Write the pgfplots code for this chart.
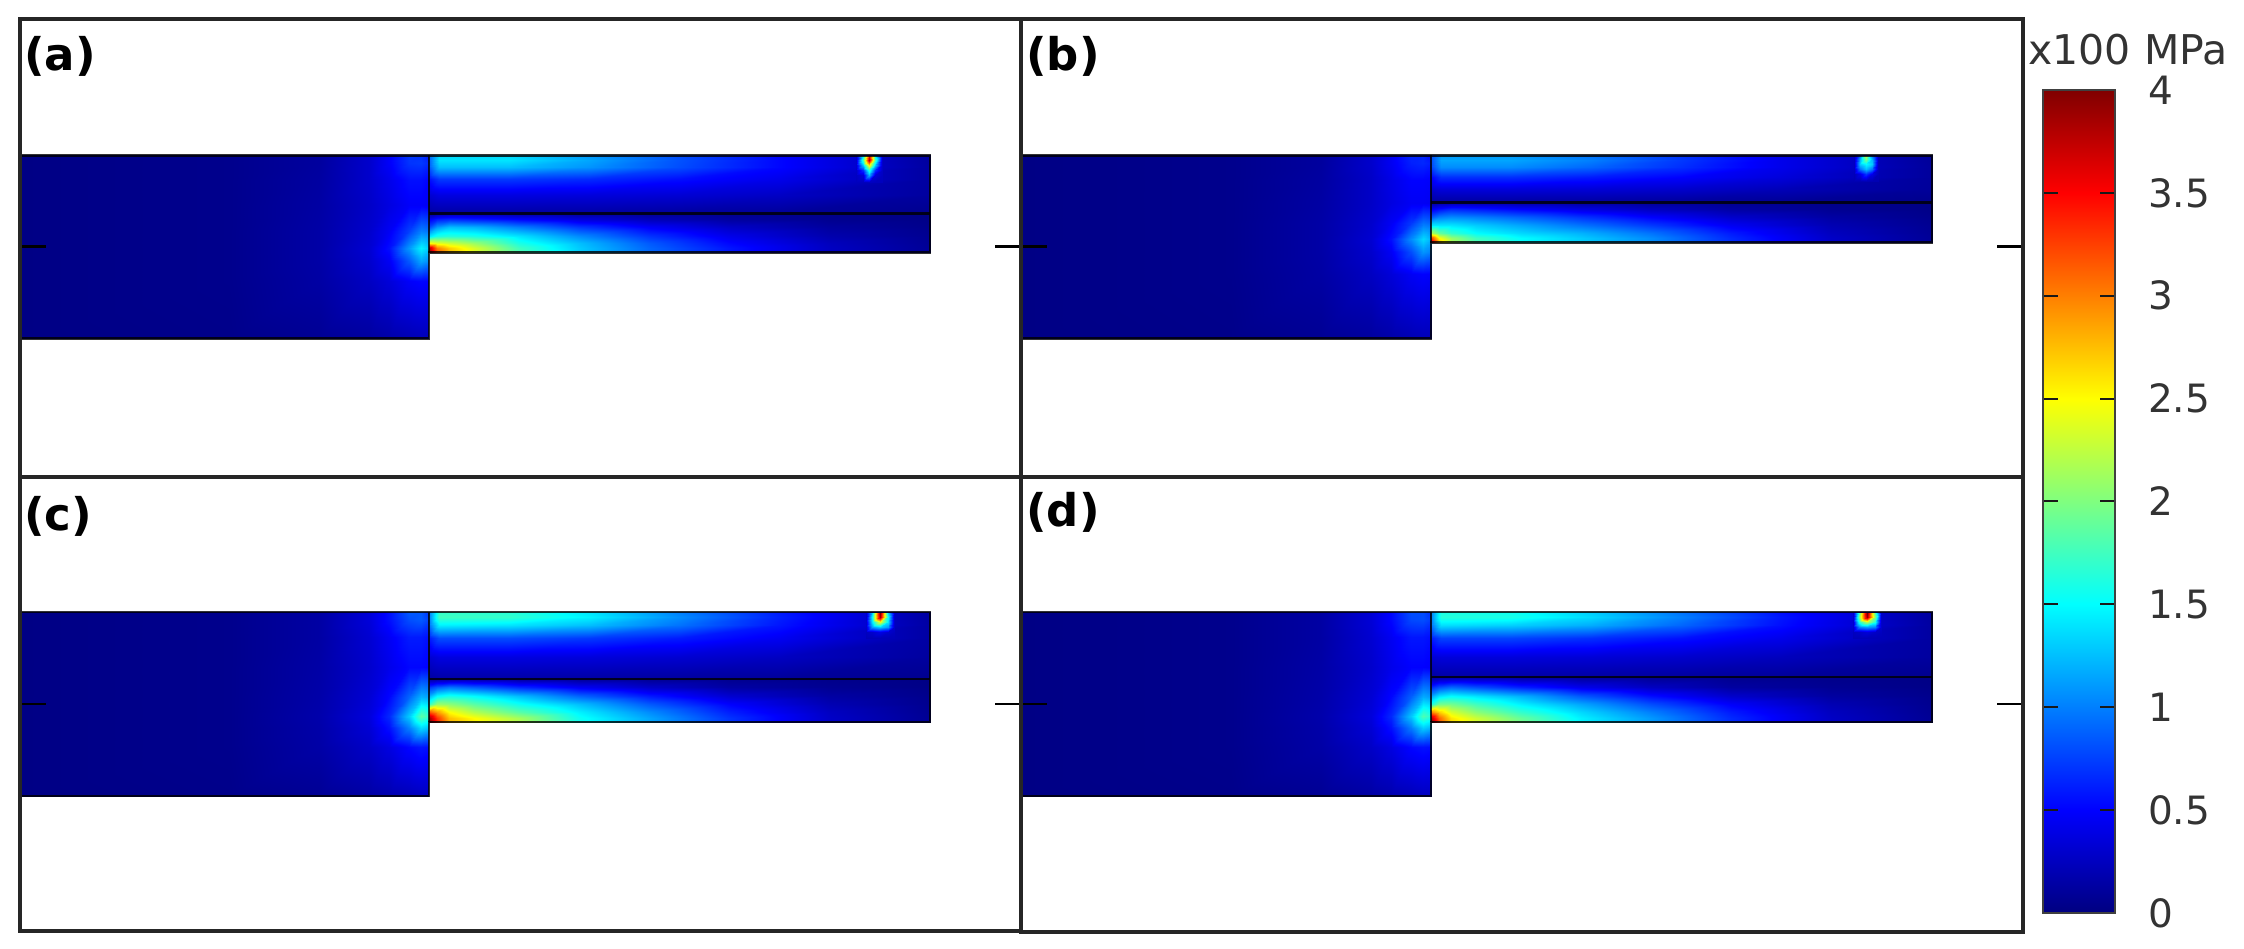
\documentclass[border=0pt]{standalone}
\usepackage{fontspec}
\setmainfont{DejaVu Sans}
\usepackage{pgfplots}
\pgfplotsset{compat=1.18}
\pgfplotsset{
  table/row sep=\\, table/x index=0, table/y index=1, table/meta index=2,
  panel/.style={scale only axis, anchor=south west, y dir=reverse, xtick=\empty,
    ytick pos=both, yticklabels={}, tick align=inside, major tick length=13pt,
    tick style={black,line width=1.3pt}, axis line style={black!85,line width=2pt},
    colormap/jet, point meta min=0, point meta max=4, axis on top},
  field/.style={surf, shader=interp, point meta=explicit},
  edge/.style={black, line width=1.3pt, opacity=0.8, no marks}
}
\begin{document}
\begin{tikzpicture}
\path[use as bounding box] (0,0) rectangle (1122pt,474pt);
% ------------------------------- (a)
\begin{axis}[panel, at={(10pt,235.5pt)}, width=500.5pt, height=228.5pt,
  xmin=-409, xmax=592, ymin=-136, ymax=321, ytick={91}]
\addplot[field, mesh/cols=8] table {
-408 0 .02\\-200 0 .05\\-110 0 .12\\-60 0 .3\\-40 0 .48\\-20 0 .72\\-8 0 .7\\0 0 .6\\
-408 8 .02\\-200 8 .05\\-110 8 .12\\-60 8 .3\\-40 8 .48\\-20 8 .7\\-8 8 .72\\0 8 .65\\
-408 25 .02\\-200 25 .05\\-110 25 .13\\-60 25 .3\\-40 25 .42\\-20 25 .55\\-8 25 .55\\0 25 .5\\
-408 50 .02\\-200 50 .05\\-110 50 .14\\-60 50 .28\\-40 50 .38\\-20 50 .48\\-8 50 .48\\0 50 .45\\
-408 75 .02\\-200 75 .05\\-110 75 .15\\-60 75 .3\\-40 75 .46\\-20 75 .75\\-8 75 1.0\\0 75 .95\\
-408 92 .02\\-200 92 .05\\-110 92 .15\\-60 92 .32\\-40 92 .55\\-20 92 1.1\\-8 92 1.45\\0 92 1.3\\
-408 105 .02\\-200 105 .05\\-110 105 .15\\-60 105 .3\\-40 105 .46\\-20 105 .85\\-8 105 1.15\\0 105 1.05\\
-408 125 .02\\-200 125 .05\\-110 125 .14\\-60 125 .26\\-40 125 .35\\-20 125 .48\\-8 125 .52\\0 125 .5\\
-408 183 .02\\-200 183 .04\\-110 183 .08\\-60 183 .12\\-40 183 .16\\-20 183 .2\\-8 183 .22\\0 183 .22\\
};
\addplot[field, mesh/cols=7] table {
0 0 .9\\10 0 1.35\\80 0 1.35\\160 0 1.1\\250 0 .8\\350 0 .5\\501 0 .12\\
0 5 .9\\10 5 1.4\\80 5 1.4\\160 5 1.15\\250 5 .82\\350 5 .52\\501 5 .12\\
0 12 .85\\10 12 1.25\\80 12 1.25\\160 12 1.08\\250 12 .8\\350 12 .52\\501 12 .13\\
0 24 .55\\10 24 .72\\80 24 .72\\160 24 .66\\250 24 .55\\350 24 .42\\501 24 .13\\
0 40 .32\\10 40 .38\\80 40 .38\\160 40 .36\\250 40 .33\\350 40 .27\\501 40 .12\\
0 58 .12\\10 58 .14\\80 58 .14\\160 58 .14\\250 58 .12\\350 58 .1\\501 58 .06\\
};
\addplot[field, mesh/cols=10] table {
0 58 .1\\8 58 .12\\20 58 .15\\45 58 .15\\90 58 .12\\150 58 .1\\220 58 .08\\300 58 .06\\400 58 .04\\501 58 .02\\
0 64 .45\\8 64 .6\\20 64 .65\\45 64 .6\\90 64 .5\\150 64 .35\\220 64 .22\\300 64 .12\\400 64 .06\\501 64 .03\\
0 72 .8\\8 72 1.1\\20 72 1.25\\45 72 1.2\\90 72 1.0\\150 72 .72\\220 72 .48\\300 72 .28\\400 72 .12\\501 72 .05\\
0 80 1.4\\8 80 1.6\\20 80 1.65\\45 80 1.6\\90 80 1.4\\150 80 1.05\\220 80 .7\\300 80 .42\\400 80 .18\\501 80 .07\\
0 87 2.5\\8 87 2.4\\20 87 2.3\\45 87 2.1\\90 87 1.6\\150 87 1.25\\220 87 .85\\300 87 .52\\400 87 .24\\501 87 .08\\
0 92 3.8\\8 92 3.0\\20 92 2.7\\45 92 2.35\\90 92 1.75\\150 92 1.3\\220 92 .9\\300 92 .58\\400 92 .26\\501 92 .09\\
0 97 4\\8 97 3.2\\20 97 2.8\\45 97 2.4\\90 97 1.8\\150 97 1.3\\220 97 .9\\300 97 .58\\400 97 .26\\501 97 .09\\
};
\addplot[field, mesh/cols=5] table {
427 1 .3\\434 1 1.5\\440 1 3.6\\446 1 1.5\\453 1 .3\\
427 5 .3\\434 5 1.8\\440 5 3.8\\446 5 1.8\\453 5 .3\\
427 10 .3\\434 10 1.3\\440 10 2.6\\446 10 1.3\\453 10 .3\\
427 15 .28\\434 15 .7\\440 15 1.7\\446 15 .7\\453 15 .28\\
427 20 .26\\434 20 .35\\440 20 1.2\\446 20 .35\\453 20 .26\\
427 27 .24\\434 27 .24\\440 27 .26\\446 27 .24\\453 27 .24\\
};
\addplot[edge] coordinates {(-409,0)(501,0)(501,97)(0,97)(0,183)(-409,183)};
\addplot[edge] coordinates {(0,0)(0,97)};
\addplot[edge] coordinates {(0,58)(501,58)};
\end{axis}
% ------------------------------- (b)
\begin{axis}[panel, at={(510.5pt,235.5pt)}, width=501pt, height=228.5pt,
  xmin=-410, xmax=592, ymin=-136, ymax=321, ytick={91}]
\addplot[field, mesh/cols=8] table {
-408 0 .02\\-200 0 .05\\-110 0 .12\\-60 0 .3\\-40 0 .45\\-20 0 .65\\-8 0 .65\\0 0 .55\\
-408 8 .02\\-200 8 .05\\-110 8 .12\\-60 8 .3\\-40 8 .45\\-20 8 .62\\-8 8 .65\\0 8 .6\\
-408 25 .02\\-200 25 .05\\-110 25 .13\\-60 25 .28\\-40 25 .4\\-20 25 .5\\-8 25 .5\\0 25 .48\\
-408 48 .02\\-200 48 .05\\-110 48 .14\\-60 48 .28\\-40 48 .38\\-20 48 .46\\-8 48 .46\\0 48 .44\\
-408 68 .02\\-200 68 .05\\-110 68 .15\\-60 68 .3\\-40 68 .46\\-20 68 .72\\-8 68 .95\\0 68 .9\\
-408 83 .02\\-200 83 .05\\-110 83 .15\\-60 83 .32\\-40 83 .55\\-20 83 1.05\\-8 83 1.35\\0 83 1.2\\
-408 96 .02\\-200 96 .05\\-110 96 .15\\-60 96 .3\\-40 96 .46\\-20 96 .8\\-8 96 1.08\\0 96 1.0\\
-408 118 .02\\-200 118 .05\\-110 118 .14\\-60 118 .26\\-40 118 .35\\-20 118 .46\\-8 118 .5\\0 118 .48\\
-408 183 .02\\-200 183 .04\\-110 183 .08\\-60 183 .12\\-40 183 .16\\-20 183 .2\\-8 183 .22\\0 183 .22\\
};
\addplot[field, mesh/cols=7] table {
0 0 .8\\10 0 1.1\\80 0 1.1\\160 0 .95\\250 0 .7\\350 0 .4\\501 0 .1\\
0 5 .8\\10 5 1.15\\80 5 1.15\\160 5 1.0\\250 5 .72\\350 5 .42\\501 5 .1\\
0 12 .75\\10 12 1.05\\80 12 1.05\\160 12 .9\\250 12 .68\\350 12 .42\\501 12 .11\\
0 22 .5\\10 22 .68\\80 22 .68\\160 22 .6\\250 22 .5\\350 22 .36\\501 22 .11\\
0 34 .3\\10 34 .36\\80 34 .36\\160 34 .34\\250 34 .3\\350 34 .22\\501 34 .1\\
0 47 .1\\10 47 .12\\80 47 .12\\160 47 .12\\250 47 .1\\350 47 .08\\501 47 .05\\
};
\addplot[field, mesh/cols=10] table {
0 47 .1\\8 47 .12\\20 47 .14\\45 47 .14\\90 47 .12\\150 47 .1\\220 47 .08\\300 47 .06\\400 47 .04\\501 47 .02\\
0 54 .45\\8 54 .55\\20 54 .65\\45 54 .6\\90 54 .5\\150 54 .38\\220 54 .25\\300 54 .14\\400 54 .07\\501 54 .03\\
0 62 .85\\8 62 1.0\\20 62 1.05\\45 62 1.0\\90 62 .88\\150 62 .7\\220 62 .5\\300 62 .3\\400 62 .14\\501 62 .05\\
0 70 1.4\\8 70 1.4\\20 70 1.4\\45 70 1.3\\90 70 1.15\\150 70 .95\\220 70 .72\\300 70 .45\\400 70 .2\\501 70 .07\\
0 77 2.2\\8 77 1.9\\20 77 1.7\\45 77 1.5\\90 77 1.35\\150 77 1.2\\220 77 .95\\300 77 .6\\400 77 .25\\501 77 .08\\
0 82 3.3\\8 82 2.5\\20 82 2.1\\45 82 1.75\\90 82 1.5\\150 82 1.3\\220 82 1.05\\300 82 .66\\400 82 .28\\501 82 .09\\
0 87 3.8\\8 87 2.8\\20 87 2.2\\45 87 1.8\\90 87 1.5\\150 87 1.3\\220 87 1.05\\300 87 .68\\400 87 .28\\501 87 .09\\
};
\addplot[field, mesh/cols=5] table {
423 1 .25\\429 1 1.0\\435 1 2.2\\441 1 1.0\\447 1 .25\\
423 4 .25\\429 4 1.2\\435 4 2.0\\441 4 1.2\\447 4 .25\\
423 9 .25\\429 9 1.3\\435 9 1.5\\441 9 1.3\\447 9 .25\\
423 14 .25\\429 14 .95\\435 14 1.25\\441 14 .95\\447 14 .25\\
423 19 .22\\429 19 .4\\435 19 .7\\441 19 .4\\447 19 .22\\
423 26 .2\\429 26 .2\\435 26 .22\\441 26 .2\\447 26 .2\\
};
\addplot[edge] coordinates {(-410,0)(501,0)(501,87)(0,87)(0,183)(-410,183)};
\addplot[edge] coordinates {(0,0)(0,87)};
\addplot[edge] coordinates {(0,47)(501,47)};
\end{axis}
% ------------------------------- (c)
\begin{axis}[panel, at={(10pt,8.5pt)}, width=500.5pt, height=227pt,
  xmin=-409, xmax=592, ymin=-135, ymax=319, ytick={92}]
\addplot[field, mesh/cols=8] table {
-408 0 .02\\-200 0 .05\\-110 0 .14\\-60 0 .35\\-40 0 .55\\-20 0 .85\\-8 0 .85\\0 0 .7\\
-408 8 .02\\-200 8 .05\\-110 8 .14\\-60 8 .35\\-40 8 .55\\-20 8 .8\\-8 8 .85\\0 8 .75\\
-408 25 .02\\-200 25 .05\\-110 25 .14\\-60 25 .32\\-40 25 .46\\-20 25 .6\\-8 25 .6\\0 25 .55\\
-408 55 .02\\-200 55 .05\\-110 55 .15\\-60 55 .3\\-40 55 .42\\-20 55 .52\\-8 55 .52\\0 55 .5\\
-408 85 .02\\-200 85 .05\\-110 85 .16\\-60 85 .33\\-40 85 .52\\-20 85 .9\\-8 85 1.2\\0 85 1.15\\
-408 104 .02\\-200 104 .05\\-110 104 .17\\-60 104 .36\\-40 104 .65\\-20 104 1.3\\-8 104 1.85\\0 104 1.7\\
-408 116 .02\\-200 116 .05\\-110 116 .16\\-60 116 .33\\-40 116 .55\\-20 116 1.0\\-8 116 1.35\\0 116 1.25\\
-408 135 .02\\-200 135 .05\\-110 135 .15\\-60 135 .28\\-40 135 .38\\-20 135 .52\\-8 135 .58\\0 135 .55\\
-408 184 .02\\-200 184 .04\\-110 184 .08\\-60 184 .14\\-40 184 .18\\-20 184 .22\\-8 184 .25\\0 184 .25\\
};
\addplot[field, mesh/cols=7] table {
0 0 1.0\\10 0 1.7\\80 0 1.65\\160 0 1.4\\250 0 1.0\\350 0 .6\\501 0 .13\\
0 5 1.0\\10 5 1.75\\80 5 1.7\\160 5 1.45\\250 5 1.05\\350 5 .62\\501 5 .13\\
0 13 .95\\10 13 1.45\\80 13 1.4\\160 13 1.25\\250 13 .95\\350 13 .58\\501 13 .14\\
0 26 .6\\10 26 .8\\80 26 .8\\160 26 .72\\250 26 .6\\350 26 .45\\501 26 .14\\
0 45 .32\\10 45 .38\\80 45 .38\\160 45 .36\\250 45 .32\\350 45 .26\\501 45 .12\\
0 67 .12\\10 67 .15\\80 67 .15\\160 67 .14\\250 67 .12\\350 67 .1\\501 67 .06\\
};
\addplot[field, mesh/cols=10] table {
0 67 .12\\8 67 .14\\20 67 .15\\45 67 .15\\90 67 .12\\150 67 .1\\220 67 .08\\300 67 .06\\400 67 .04\\501 67 .02\\
0 75 .7\\8 75 .85\\20 75 .95\\45 75 .85\\90 75 .65\\150 75 .45\\220 75 .28\\300 75 .14\\400 75 .07\\501 75 .03\\
0 84 1.2\\8 84 1.5\\20 84 1.6\\45 84 1.5\\90 84 1.25\\150 84 .9\\220 84 .6\\300 84 .32\\400 84 .14\\501 84 .05\\
0 92 1.7\\8 92 2.1\\20 92 2.05\\45 92 1.85\\90 92 1.55\\150 92 1.25\\220 92 .85\\300 92 .5\\400 92 .2\\501 92 .06\\
0 100 3.2\\8 100 2.9\\20 100 2.5\\45 100 2.2\\90 100 1.85\\150 100 1.45\\220 100 1.05\\300 100 .62\\400 100 .26\\501 100 .07\\
0 106 3.9\\8 106 3.3\\20 106 2.75\\45 106 2.5\\90 106 2.15\\150 106 1.55\\220 106 1.15\\300 106 .7\\400 106 .28\\501 106 .08\\
0 110 4\\8 110 3.4\\20 110 2.8\\45 110 2.55\\90 110 2.2\\150 110 1.55\\220 110 1.15\\300 110 .7\\400 110 .28\\501 110 .08\\
};
\addplot[field, mesh/cols=5] table {
437 1 .3\\443 1 1.3\\451 1 4\\459 1 1.3\\465 1 .3\\
437 5 .3\\443 5 1.5\\451 5 3.9\\459 5 1.5\\465 5 .3\\
437 10 .3\\443 10 1.4\\451 10 2.4\\459 10 1.4\\465 10 .3\\
437 15 .3\\443 15 1.1\\451 15 1.3\\459 15 1.1\\465 15 .3\\
437 20 .25\\443 20 .3\\451 20 .4\\459 20 .3\\465 20 .25\\
437 26 .22\\443 26 .22\\451 26 .22\\459 26 .22\\465 26 .22\\
};
\addplot[edge] coordinates {(-409,0)(501,0)(501,110)(0,110)(0,184)(-409,184)};
\addplot[edge] coordinates {(0,0)(0,110)};
\addplot[edge] coordinates {(0,67)(501,67)};
\end{axis}
% ------------------------------- (d)
\begin{axis}[panel, at={(510.5pt,8pt)}, width=501pt, height=227.5pt,
  xmin=-410, xmax=592, ymin=-135, ymax=320, ytick={92}]
\addplot[field, mesh/cols=8] table {
-408 0 .02\\-200 0 .05\\-110 0 .14\\-60 0 .34\\-40 0 .52\\-20 0 .8\\-8 0 .8\\0 0 .68\\
-408 8 .02\\-200 8 .05\\-110 8 .14\\-60 8 .34\\-40 8 .52\\-20 8 .78\\-8 8 .8\\0 8 .72\\
-408 25 .02\\-200 25 .05\\-110 25 .14\\-60 25 .32\\-40 25 .45\\-20 25 .58\\-8 25 .58\\0 25 .54\\
-408 55 .02\\-200 55 .05\\-110 55 .15\\-60 55 .3\\-40 55 .42\\-20 55 .5\\-8 55 .5\\0 55 .48\\
-408 85 .02\\-200 85 .05\\-110 85 .16\\-60 85 .33\\-40 85 .52\\-20 85 .88\\-8 85 1.18\\0 85 1.12\\
-408 104 .02\\-200 104 .05\\-110 104 .17\\-60 104 .36\\-40 104 .65\\-20 104 1.28\\-8 104 1.8\\0 104 1.65\\
-408 116 .02\\-200 116 .05\\-110 116 .16\\-60 116 .33\\-40 116 .55\\-20 116 .98\\-8 116 1.3\\0 116 1.2\\
-408 135 .02\\-200 135 .05\\-110 135 .15\\-60 135 .28\\-40 135 .38\\-20 135 .52\\-8 135 .56\\0 135 .54\\
-408 184 .02\\-200 184 .04\\-110 184 .08\\-60 184 .14\\-40 184 .18\\-20 184 .22\\-8 184 .25\\0 184 .25\\
};
\addplot[field, mesh/cols=7] table {
0 0 1.0\\10 0 1.6\\80 0 1.55\\160 0 1.3\\250 0 .95\\350 0 .55\\501 0 .12\\
0 5 1.0\\10 5 1.65\\80 5 1.6\\160 5 1.35\\250 5 1.0\\350 5 .58\\501 5 .12\\
0 13 .95\\10 13 1.38\\80 13 1.32\\160 13 1.18\\250 13 .9\\350 13 .55\\501 13 .13\\
0 26 .6\\10 26 .76\\80 26 .76\\160 26 .68\\250 26 .56\\350 26 .42\\501 26 .13\\
0 45 .32\\10 45 .36\\80 45 .36\\160 45 .34\\250 45 .3\\350 45 .24\\501 45 .12\\
0 65 .12\\10 65 .15\\80 65 .15\\160 65 .14\\250 65 .12\\350 65 .1\\501 65 .06\\
};
\addplot[field, mesh/cols=10] table {
0 65 .12\\8 65 .14\\20 65 .15\\45 65 .15\\90 65 .12\\150 65 .1\\220 65 .08\\300 65 .06\\400 65 .04\\501 65 .02\\
0 75 .65\\8 75 .8\\20 75 .9\\45 75 .8\\90 75 .62\\150 75 .42\\220 75 .26\\300 75 .13\\400 75 .07\\501 75 .03\\
0 84 1.15\\8 84 1.4\\20 84 1.5\\45 84 1.4\\90 84 1.2\\150 84 .85\\220 84 .55\\300 84 .3\\400 84 .13\\501 84 .05\\
0 92 1.6\\8 92 1.95\\20 92 1.95\\45 92 1.75\\90 92 1.45\\150 92 1.15\\220 92 .8\\300 92 .48\\400 92 .2\\501 92 .06\\
0 100 3.0\\8 100 2.7\\20 100 2.35\\45 100 2.05\\90 100 1.7\\150 100 1.35\\220 100 1.0\\300 100 .6\\400 100 .25\\501 100 .07\\
0 106 3.8\\8 106 3.1\\20 106 2.6\\45 106 2.3\\90 106 1.9\\150 106 1.45\\220 106 1.1\\300 106 .66\\400 106 .27\\501 106 .08\\
0 110 4\\8 110 3.2\\20 110 2.65\\45 110 2.35\\90 110 1.95\\150 110 1.45\\220 110 1.1\\300 110 .66\\400 110 .27\\501 110 .08\\
};
\addplot[field, mesh/cols=5] table {
422 1 .3\\428 1 1.8\\436 1 4\\444 1 1.8\\450 1 .3\\
422 5 .3\\428 5 2.0\\436 5 3.9\\444 5 2.0\\450 5 .3\\
422 10 .3\\428 10 1.6\\436 10 2.2\\444 10 1.6\\450 10 .3\\
422 15 .3\\428 15 1.0\\436 15 1.1\\444 15 1.0\\450 15 .3\\
422 20 .25\\428 20 .28\\436 20 .35\\444 20 .28\\450 20 .25\\
422 26 .22\\428 26 .22\\436 26 .22\\444 26 .22\\450 26 .22\\
};
\addplot[edge] coordinates {(-410,0)(501,0)(501,110)(0,110)(0,184)(-410,184)};
\addplot[edge] coordinates {(0,0)(0,110)};
\addplot[edge] coordinates {(0,65)(501,65)};
\end{axis}
% ------------------------------- colour scale
\begin{axis}[scale only axis, anchor=south west, at={(1021.5pt,17.5pt)}, width=36pt, height=411.5pt,
  xmin=0, xmax=1, ymin=0, ymax=4, xtick=\empty, ytick={0,0.5,1,1.5,2,2.5,3,3.5,4},
  ytick pos=both, yticklabel pos=right, tick align=inside, major tick length=7.5pt,
  tick style={black!90,line width=1pt}, axis line style={black!75,line width=1.2pt},
  yticklabel style={font=\fontsize{19.5}{20}\selectfont, text=black!80, anchor=west, xshift=13pt,
    /pgf/number format/assume math mode=true, /pgf/number format/fixed},
  colormap/jet, point meta min=0, point meta max=4, axis on top]
\addplot[surf, shader=interp, point meta=y, mesh/cols=2] coordinates {
(0,0)(1,0)
(0,0.5)(1,0.5)
(0,1.5)(1,1.5)
(0,2.5)(1,2.5)
(0,3.5)(1,3.5)
(0,4)(1,4)};
\end{axis}
\def\lab{\fontsize{22.5}{24}\selectfont\bfseries}
\node[anchor=west,inner sep=0pt] at (12pt,446pt) {\lab (a)};
\node[anchor=west,inner sep=0pt] at (513pt,446pt) {\lab (b)};
\node[anchor=west,inner sep=0pt] at (12pt,216pt) {\lab (c)};
\node[anchor=west,inner sep=0pt] at (513pt,218pt) {\lab (d)};
\node[anchor=center,inner sep=0pt,text=black!80] at (1064pt,449pt) {\fontsize{20.5}{21}\selectfont x100 MPa};
\end{tikzpicture}
\end{document}
